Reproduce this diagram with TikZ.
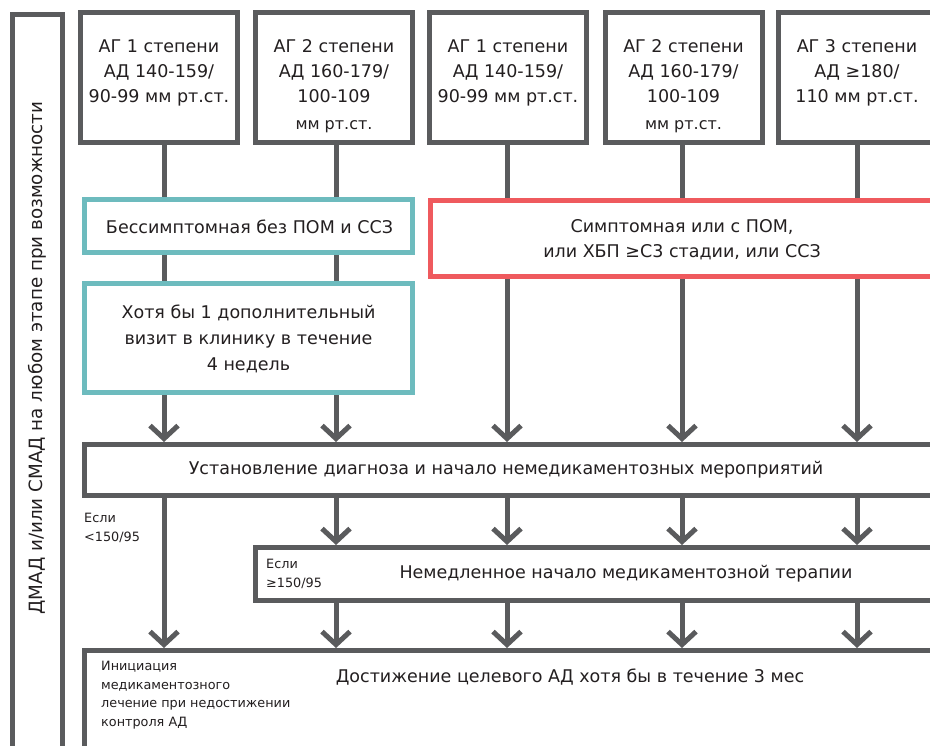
\documentclass[tikz,border=0pt]{standalone}
\usepackage{fontspec}
\setmainfont{DejaVu Sans}
\usetikzlibrary{arrows.meta}
\definecolor{linegray}{HTML}{5A5B5D}
\definecolor{tealc}{HTML}{6DBBBE}
\definecolor{redc}{HTML}{EF5A5E}
\definecolor{txt}{HTML}{231F20}
\begin{document}
\begin{tikzpicture}[x=1pt,y=-1pt,
  box/.style={draw=linegray,line width=5pt,fill=white,inner sep=0pt},
  tealbox/.style={box,draw=tealc},
  redbox/.style={box,draw=redc},
  lbl/.style={text=txt,align=center,inner sep=0pt,font=\fontsize{17.5}{25}\selectfont},
  mini/.style={text=txt,align=left,inner sep=0pt,font=\fontsize{12.8}{18.5}\selectfont},
  conn/.style={draw=linegray,line width=5pt},
  arr/.style={conn,-{Straight Barb[length=13pt,width=28pt]}}
]
\useasboundingbox (0,0) rectangle (930,746);
\clip (0,0) rectangle (930,746);
\fill[white] (0,0) rectangle (930,746);

% column positions of the vertical connectors
\coordinate (c1) at (164,0);
\coordinate (c2) at (336,0);
\coordinate (c3) at (507,0);
\coordinate (c4) at (682,0);
\coordinate (c5) at (857,0);

% side bar
\node[box,minimum width=50pt,minimum height=800pt,anchor=north] (side) at (37.5,12.5) {};
\node[lbl,rotate=90,font=\fontsize{18.3}{20}\selectfont] (sidetxt) at (37,358) {ДМАД и/или СМАД на любом этапе при возможности};

% grade boxes
\node[box,minimum width=157pt,minimum height=130pt] (t1) at (159,77.5) {};
\node[box,minimum width=157pt,minimum height=130pt] (t2) at (334,77.5) {};
\node[box,minimum width=157pt,minimum height=130pt] (t3) at (508,77.5) {};
\node[box,minimum width=157pt,minimum height=130pt] (t4) at (683.5,77.5) {};
\node[box,minimum width=157pt,minimum height=130pt] (t5) at (857,77.5) {};
\node[lbl,anchor=north] (t1txt) at (159,39.5) {АГ 1 степени\\АД 140-159/\\90-99 мм рт.ст.};
\node[lbl,anchor=north] (t2txt) at (334,39.5) {АГ 2 степени\\АД 160-179/\\100-109\\[2pt]{\fontsize{16}{25}\selectfont мм рт.ст.}};
\node[lbl,anchor=north] (t3txt) at (508,39.5) {АГ 1 степени\\АД 140-159/\\90-99 мм рт.ст.};
\node[lbl,anchor=north] (t4txt) at (683.5,39.5) {АГ 2 степени\\АД 160-179/\\100-109\\[2pt]{\fontsize{16}{25}\selectfont мм рт.ст.}};
\node[lbl,anchor=north] (t5txt) at (857,39.5) {АГ 3 степени\\АД ≥180/\\110 мм рт.ст.};

% risk boxes
\node[tealbox,minimum width=328pt,minimum height=52.5pt] (asym) at (248.5,226.25) {};
\node[lbl] (asymtxt) at (249.5,227) {Бессимптомная без ПОМ и ССЗ};
\node[tealbox,minimum width=328pt,minimum height=109pt] (visit) at (248.5,338) {};
\node[lbl,font=\fontsize{17.5}{26}\selectfont] (visittxt) at (248.5,339) {Хотя бы 1 дополнительный\\визит в клинику в течение\\4 недель};
\node[redbox,minimum width=569.5pt,minimum height=76.5pt] (sym) at (715.25,238.75) {};
\node[lbl] (symtxt) at (682,239.5) {Симптомная или с ПОМ,\\или ХБП ≥С3 стадии, или ССЗ};

% diagnosis
\node[box,minimum width=915.5pt,minimum height=51pt] (diag) at (542.25,470) {};
\node[lbl] (diagtxt) at (506,470) {Установление диагноза и начало немедикаментозных мероприятий};

% drug therapy
\node[box,minimum width=744.5pt,minimum height=53pt] (drug) at (627.75,574) {};
\node[lbl] (drugtxt) at (626,574) {Немедленное начало медикаментозной терапии};
\node[mini,anchor=west] (ifhigh) at (266,574) {Если\\≥150/95};

% target
\node[box,minimum width=915.5pt,minimum height=149.5pt] (goal) at (542.25,725.25) {};
\node[lbl] (goaltxt) at (570,677) {Достижение целевого АД хотя бы в течение 3 мес};
\node[mini,anchor=north west] (init) at (101,661) {Инициация\\медикаментозного\\лечение при недостижении\\контроля АД};

\node[mini,anchor=west] (iflow) at (84,528) {Если\\<150/95};

% connectors: grade boxes to risk boxes
\draw[conn] (t1.south -| c1) -- (asym.north -| c1);
\draw[conn] (t2.south -| c2) -- (asym.north -| c2);
\draw[conn] (t3.south -| c3) -- (sym.north -| c3);
\draw[conn] (t4.south -| c4) -- (sym.north -| c4);
\draw[conn] (t5.south -| c5) -- (sym.north -| c5);
\draw[conn] (asym.south -| c1) -- (visit.north -| c1);
\draw[conn] (asym.south -| c2) -- (visit.north -| c2);

% into diagnosis
\draw[arr] (visit.south -| c1) -- (diag.north -| c1);
\draw[arr] (visit.south -| c2) -- (diag.north -| c2);
\draw[arr] (sym.south -| c3) -- (diag.north -| c3);
\draw[arr] (sym.south -| c4) -- (diag.north -| c4);
\draw[arr] (sym.south -| c5) -- (diag.north -| c5);

% into drug therapy
\draw[arr] (diag.south -| c2) -- (drug.north -| c2);
\draw[arr] (diag.south -| c3) -- (drug.north -| c3);
\draw[arr] (diag.south -| c4) -- (drug.north -| c4);
\draw[arr] (diag.south -| c5) -- (drug.north -| c5);

% into target
\draw[arr] (diag.south -| c1) -- (goal.north -| c1);
\draw[arr] (drug.south -| c2) -- (goal.north -| c2);
\draw[arr] (drug.south -| c3) -- (goal.north -| c3);
\draw[arr] (drug.south -| c4) -- (goal.north -| c4);
\draw[arr] (drug.south -| c5) -- (goal.north -| c5);
\end{tikzpicture}
\end{document}
